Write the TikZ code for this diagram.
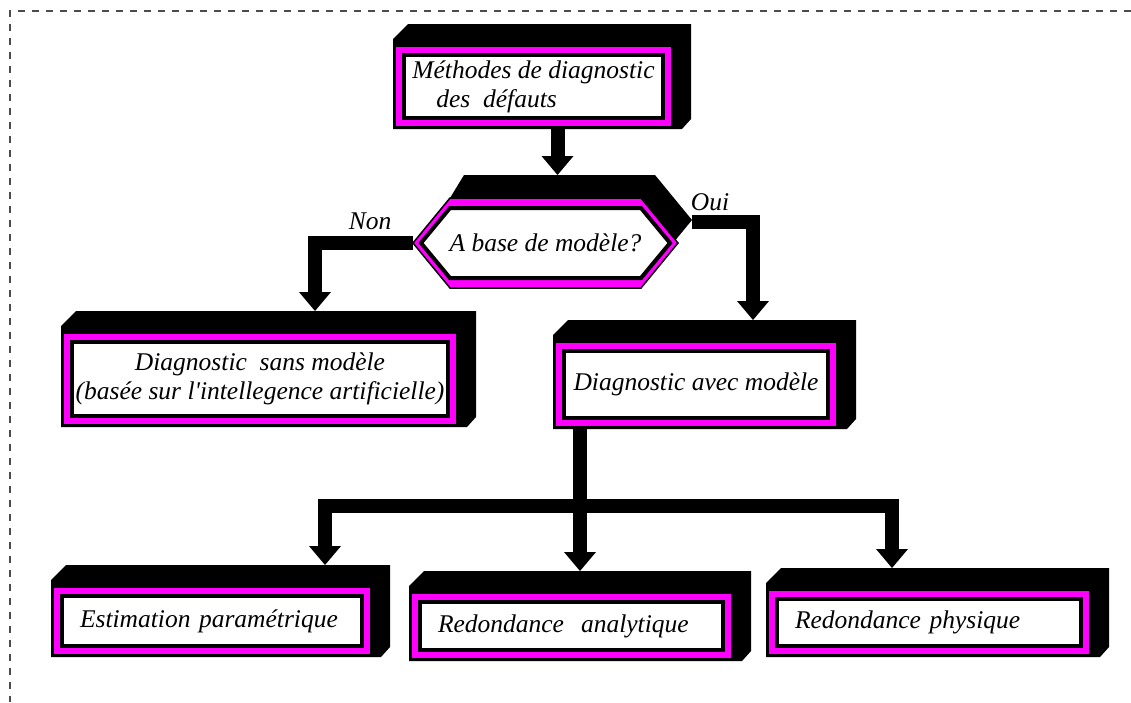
\documentclass[tikz,border=0pt]{standalone}
\usepackage{fontspec}
\setmainfont{Liberation Serif}
\usetikzlibrary{arrows.meta, calc, backgrounds}
\definecolor{framemag}{RGB}{255,0,255}

\begin{document}
\begin{tikzpicture}[x=1pt, y=-1pt,
    box/.style={draw=black, line width=4pt, fill=white, inner sep=0pt, outer sep=0pt,
        font=\fontsize{25.5}{29}\selectfont\itshape},
    lbox/.style={box, align=left, inner xsep=18pt},
    lbl/.style={inner sep=0pt, outer sep=0pt, font=\fontsize{25.5}{29}\selectfont\itshape},
    conn/.style={line width=14pt, -{Triangle[width=32pt, length=19pt, line width=0pt]}},
    bar/.style={line width=14pt},
    frameline/.style={gray!60!black, line width=1.5pt, dash pattern=on 7pt off 7pt}]

    \useasboundingbox (0,0) rectangle (1131,702);

    % --- Dashed frame (top and left only) ---
    \draw[frameline] (1131,11) -- (10,11) -- (10,702);

    % --- Boxes (white face, black rim) ---
    \node[box, align=left, minimum width=259pt, minimum height=63pt] (meth) at (533.5,86.5)
        {Méthodes de diagnostic\\\hspace*{24pt}des~~défauts};
    \node[box, align=center, minimum width=376pt, minimum height=74pt] (sans) at (260,379)
        {Diagnostic~~sans modèle\\(basée sur l\textquotesingle intellegence artificielle)};
    \node[box, minimum width=264pt, minimum height=67pt] (avec) at (696,384.5)
        {Diagnostic avec modèle};
    \node[lbox, text width=264pt, minimum height=50pt] (est) at (212,621)
        {Estimation paramétrique};
    \node[lbox, text width=267pt, minimum height=48pt] (ana) at (571.5,626)
        {Redondance~~analytique};
    \node[lbox, text width=268pt, minimum height=47pt] (phy) at (929,622.5)
        {Redondance physique};

    % --- Decision (hexagon drawn behind) ---
    \node[lbl, minimum width=265pt, minimum height=90pt] (q) at (545.5,243) {A base de modèle?};

    \begin{scope}[on background layer]
        % magenta frame and black depth of each box
        \foreach \nd in {meth,sans,avec,est,ana,phy} {
            \coordinate (tl) at ($(\nd.north west)+(-9,-9)$);
            \coordinate (br) at ($(\nd.south east)+(9,9)$);
            \fill[black] ($(tl)+(-2,-7)$) -- ($(tl)+(13,-22)$) -- ($(tl -| br)+(19,-22)$)
                -- ($(br)+(19,-8)$) -- ($(br)+(10,2)$) -- ($(tl |- br)+(-2,2)$) -- cycle;
            \filldraw[fill=framemag, draw=black, line width=1.5pt] (tl) rectangle (br);
        }

        % hexagon: depth, magenta frame, white face
        \fill[black] (q.west) -- ($(q.north west)+(37,0)$) -- ($(q.north west)+(51,-23)$)
            -- ($(q.north east)+(-23,-23)$) -- ($(q.east)+(14,-23)$)
            -- ($(q.south east)+(-23,-23)$) -- ($(q.south east)+(-37,0)$)
            -- ($(q.south west)+(37,0)$) -- cycle;
        \filldraw[fill=framemag, draw=black, line width=1.5pt] (q.west)
            -- ($(q.north west)+(37,0)$) -- ($(q.north east)+(-37,0)$) -- (q.east)
            -- ($(q.south east)+(-37,0)$) -- ($(q.south west)+(37,0)$) -- cycle;
        \filldraw[fill=white, draw=black, line width=4pt] ($(q.west)+(8,0)$)
            -- ($(q.north west)+(37,10)$) -- ($(q.north east)+(-37,10)$) -- ($(q.east)+(-8,0)$)
            -- ($(q.south east)+(-37,-10)$) -- ($(q.south west)+(37,-10)$) -- cycle;
    \end{scope}

    % --- Connectors ---
    \coordinate (mout) at ([xshift=24pt]meth.south);
    \draw[conn, shorten <=11pt, shorten >=23pt] (mout) -- (mout |- q.north);

    \draw[conn, shorten >=31pt] (q.west) -| ([xshift=55pt]sans.north);
    \coordinate (qback) at ($(q.east)+(14,-21)$);
    \draw[conn, shorten >=31pt] (qback) -| ([xshift=57pt]avec.north);

    \coordinate (split) at (580,506);
    \draw[bar, shorten <=11pt] (avec.south -| split) -- (split);
    \draw[conn, shorten >=31pt] (split) -| ([xshift=113pt]est.north);
    \draw[conn, shorten >=31pt] (split) -- (split |- ana.north);
    \draw[conn, shorten >=31pt] (split) -| ([xshift=-37pt]phy.north);

    % --- Branch labels ---
    \node[lbl] (non) at (370,221) {Non};
    \node[lbl] (oui) at (710,202) {Oui};

\end{tikzpicture}
\end{document}
